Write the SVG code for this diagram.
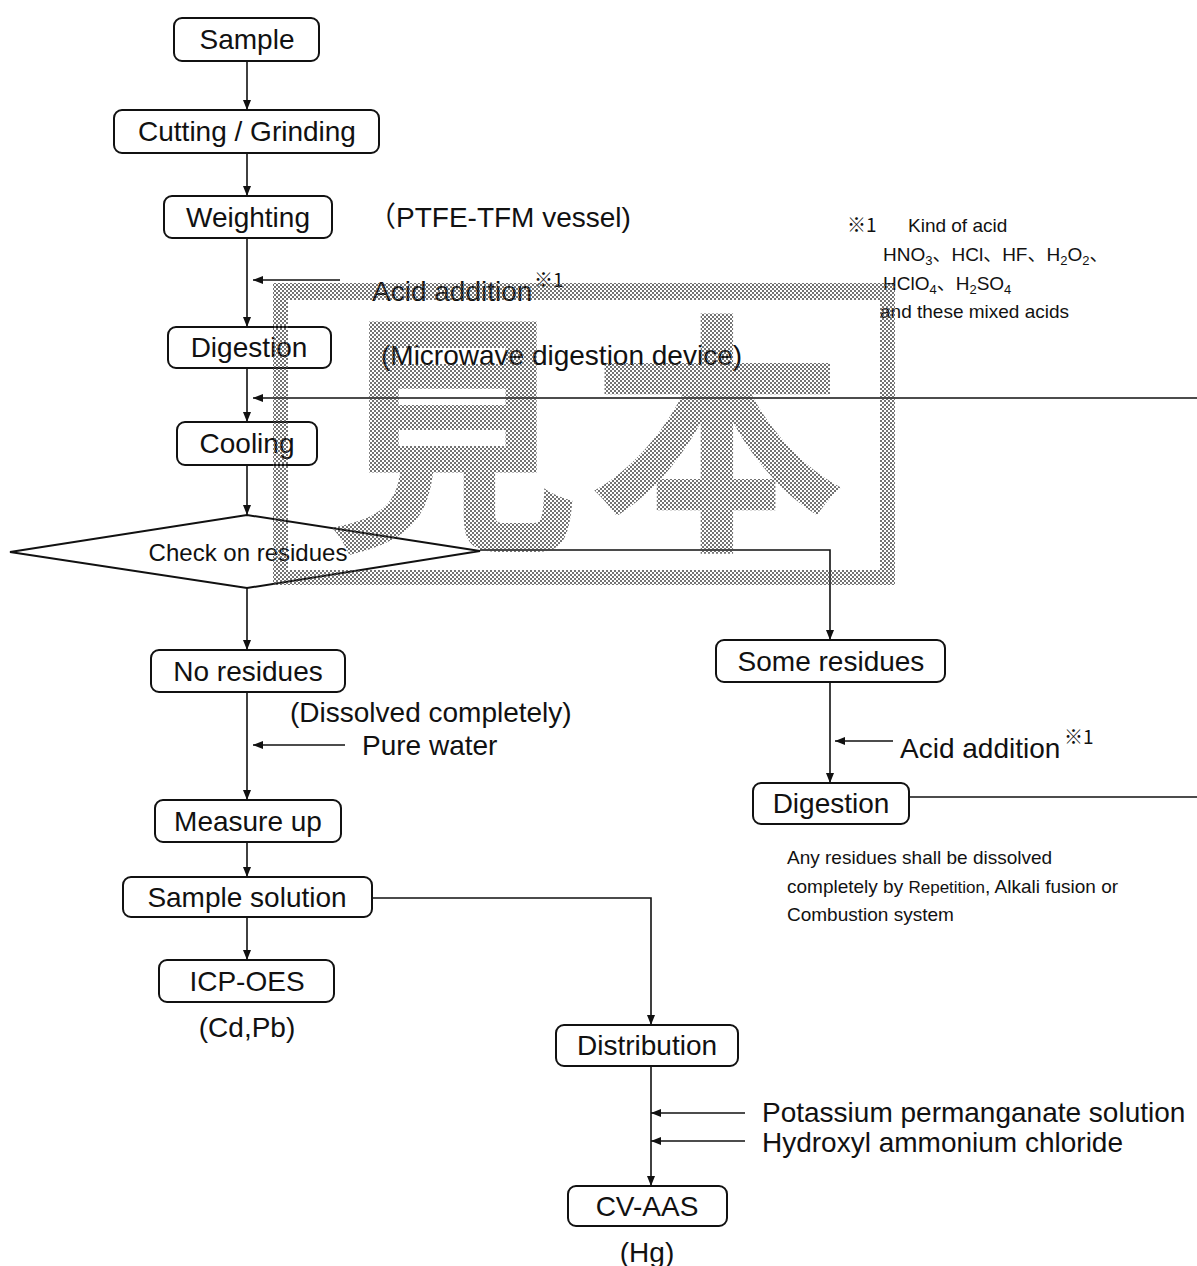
<svg xmlns="http://www.w3.org/2000/svg" width="1197" height="1266" viewBox="0 0 1197 1266">
<style>
.box{fill:none;stroke:#111;stroke-width:2}
.lbl{font-family:"Liberation Sans",Arial,"Noto Sans CJK JP",sans-serif;font-size:28px;fill:#111}
.c{text-anchor:middle}
.ln{fill:none;stroke:#111;stroke-width:1.6}
.sup{font-family:"Noto Sans CJK JP","Liberation Serif",serif;font-size:19px;fill:#111}
.note{font-family:"Liberation Sans","Noto Sans CJK JP",sans-serif;font-size:19px;fill:#111}
.wm{fill:url(#dots)}
</style>
<defs>
<marker id="ah" markerWidth="10" markerHeight="8" refX="10" refY="4" orient="auto" markerUnits="userSpaceOnUse">
<path d="M0,0 L10,4 L0,8 Z" fill="#111"/>
</marker>
<pattern id="dots" width="4" height="4" patternUnits="userSpaceOnUse">
<circle cx="1" cy="1" r="1" fill="#444"/>
<circle cx="3" cy="3" r="1" fill="#444"/>
</pattern>
</defs>

<g id="connectors">
<line class="ln" x1="247" y1="61" x2="247" y2="110" marker-end="url(#ah)"/>
<line class="ln" x1="247" y1="153" x2="247" y2="196" marker-end="url(#ah)"/>
<line class="ln" x1="247" y1="238" x2="247" y2="327" marker-end="url(#ah)"/>
<line class="ln" x1="340" y1="280" x2="253" y2="280" marker-end="url(#ah)"/>
<line class="ln" x1="247" y1="368" x2="247" y2="422" marker-end="url(#ah)"/>
<line class="ln" x1="1197" y1="398" x2="253" y2="398" marker-end="url(#ah)"/>
<line class="ln" x1="247" y1="465" x2="247" y2="515" marker-end="url(#ah)"/>
<polyline class="ln" points="480,550 830,550 830,640" marker-end="url(#ah)"/>
<line class="ln" x1="247" y1="588" x2="247" y2="650" marker-end="url(#ah)"/>
<line class="ln" x1="247" y1="692" x2="247" y2="800" marker-end="url(#ah)"/>
<line class="ln" x1="345" y1="745" x2="253" y2="745" marker-end="url(#ah)"/>
<line class="ln" x1="247" y1="842" x2="247" y2="877" marker-end="url(#ah)"/>
<line class="ln" x1="247" y1="917" x2="247" y2="960" marker-end="url(#ah)"/>
<polyline class="ln" points="372,898 651,898 651,1025" marker-end="url(#ah)"/>
<line class="ln" x1="651" y1="1066" x2="651" y2="1186" marker-end="url(#ah)"/>
<line class="ln" x1="745" y1="1113" x2="651" y2="1113" marker-end="url(#ah)"/>
<line class="ln" x1="745" y1="1141" x2="651" y2="1141" marker-end="url(#ah)"/>
<line class="ln" x1="830" y1="682" x2="830" y2="783" marker-end="url(#ah)"/>
<line class="ln" x1="893" y1="741" x2="835" y2="741" marker-end="url(#ah)"/>
<line class="ln" x1="909" y1="797" x2="1197" y2="797"/>
</g>

<g id="n-sample"><rect class="box" x="174" y="18" width="145" height="43" rx="8"/><text class="lbl c" x="247" y="49">Sample</text></g>
<g id="n-cutting"><rect class="box" x="114" y="110" width="265" height="43" rx="8"/><text class="lbl c" x="247" y="141">Cutting / Grinding</text></g>
<g id="n-weighting"><rect class="box" x="164" y="196" width="168" height="42" rx="8"/><text class="lbl c" x="248" y="227">Weighting</text></g>
<g id="t-ptfe"><text class="lbl" x="368" y="227">（PTFE-TFM vessel)</text></g>
<g id="t-acid1"><text class="lbl" x="372" y="301">Acid addition</text><text class="sup" x="534" y="287">※1</text></g>
<g id="n-digestion"><rect class="box" x="168" y="327" width="163" height="41" rx="8"/><text class="lbl c" x="249" y="357">Digestion</text></g>
<g id="t-microwave"><text class="lbl" x="381" y="365">(Microwave digestion device)</text></g>
<g id="n-cooling"><rect class="box" x="177" y="422" width="140" height="43" rx="8"/><text class="lbl c" x="247" y="453">Cooling</text></g>
<g id="n-check"><polygon class="box" points="10,552 247,515 480,551 247,588"/><text class="lbl c" x="248" y="561" style="font-size:24px">Check on residues</text></g>
<g id="n-nores"><rect class="box" x="151" y="650" width="194" height="42" rx="8"/><text class="lbl c" x="248" y="681">No residues</text></g>
<g id="t-dissolved"><text class="lbl" x="290" y="722">(Dissolved completely)</text></g>
<g id="t-water"><text class="lbl" x="362" y="755">Pure water</text></g>
<g id="n-measure"><rect class="box" x="155" y="800" width="186" height="42" rx="8"/><text class="lbl c" x="248" y="831">Measure up</text></g>
<g id="n-solution"><rect class="box" x="123" y="877" width="249" height="40" rx="8"/><text class="lbl c" x="247" y="907">Sample solution</text></g>
<g id="n-icp"><rect class="box" x="159" y="960" width="175" height="42" rx="8"/><text class="lbl c" x="247" y="991">ICP-OES</text></g>
<g id="t-cdpb"><text class="lbl c" x="247" y="1037">(Cd,Pb)</text></g>
<g id="n-distribution"><rect class="box" x="556" y="1025" width="182" height="41" rx="8"/><text class="lbl c" x="647" y="1055">Distribution</text></g>
<g id="t-reagents"><text class="lbl" x="762" y="1122">Potassium permanganate solution</text><text class="lbl" x="762" y="1152">Hydroxyl ammonium chloride</text></g>
<g id="n-cvaas"><rect class="box" x="568" y="1186" width="159" height="40" rx="8"/><text class="lbl c" x="647" y="1216">CV-AAS</text></g>
<g id="t-hg"><text class="lbl c" x="647" y="1262">(Hg)</text></g>
<g id="n-some"><rect class="box" x="716" y="640" width="229" height="42" rx="8"/><text class="lbl c" x="831" y="671">Some residues</text></g>
<g id="t-acid2"><text class="lbl" x="900" y="758">Acid addition</text><text class="sup" x="1064" y="744">※1</text></g>
<g id="n-digestion2"><rect class="box" x="753" y="783" width="156" height="41" rx="8"/><text class="lbl c" x="831" y="813">Digestion</text></g>
<g id="t-anyres"><text class="note" x="787" y="864">Any residues shall be dissolved</text><text class="note" x="787" y="893">completely by <tspan style="font-size:17px">Repetition</tspan>, Alkali fusion or</text><text class="note" x="787" y="921">Combustion system</text></g>
<g id="t-kind">
<text class="note" x="847" y="232"><tspan font-family="Noto Sans CJK JP" font-size="19">※1</tspan><tspan x="908">Kind of acid</tspan></text>
<text class="note" x="883" y="261">HNO<tspan font-size="13" dy="4">3</tspan><tspan dy="-4">、HCl、HF、H</tspan><tspan font-size="13" dy="4">2</tspan><tspan dy="-4">O</tspan><tspan font-size="13" dy="4">2</tspan><tspan dy="-4">、</tspan></text>
<text class="note" x="883" y="290">HClO<tspan font-size="13" dy="4">4</tspan><tspan dy="-4">、H</tspan><tspan font-size="13" dy="4">2</tspan><tspan dy="-4">SO</tspan><tspan font-size="13" dy="4">4</tspan></text>
<text class="note" x="880" y="318">and these mixed acids</text>
</g>

<g id="watermark">
<path class="wm" fill-rule="evenodd" d="M273,283 H895 V585 H273 Z M288,300 V570 H880 V300 Z"/>
<text class="wm" x="452" y="530" text-anchor="middle" font-family="Noto Sans CJK JP" font-weight="700" font-size="255">見</text>
<text class="wm" x="717" y="530" text-anchor="middle" font-family="Noto Sans CJK JP" font-weight="700" font-size="255">本</text>
</g>
</svg>
